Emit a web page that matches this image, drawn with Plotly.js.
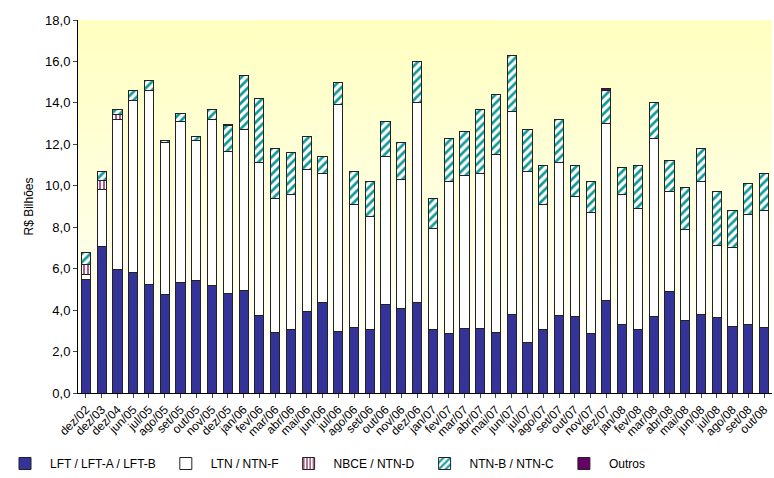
<!DOCTYPE html>
<html><head><meta charset="utf-8">
<script src="https://cdn.plot.ly/plotly-3.0.1.min.js"></script>
<style>body{margin:0}</style>
</head><body><div id="myDiv" style="width:774px;height:478px"></div>
<script>
var months = ["dez/02","dez/03","dez/04","jun/05","jul/05","ago/05","set/05","out/05","nov/05","dez/05",
  "jan/06","fev/06","mar/06","abr/06","mai/06","jun/06","jul/06","ago/06","set/06","out/06","nov/06","dez/06",
  "jan/07","fev/07","mar/07","abr/07","mai/07","jun/07","jul/07","ago/07","set/07","out/07","nov/07","dez/07",
  "jan/08","fev/08","mar/08","abr/08","mai/08","jun/08","jul/08","ago/08","set/08","out/08"];
var lft = [5.5,7.05,5.95,5.8,5.25,4.75,5.35,5.45,5.2,4.8,
  4.95,3.75,2.9,3.05,3.95,4.35,2.95,3.15,3.05,4.25,4.1,4.35,
  3.05,2.85,3.1,3.1,2.9,3.8,2.45,3.05,3.75,3.7,2.85,4.45,
  3.3,3.05,3.7,4.9,3.5,3.8,3.65,3.2,3.3,3.15];
var ltn = [0.2,2.75,7.25,8.3,9.35,7.35,7.75,6.75,8.0,6.85,
  7.75,7.35,6.5,6.55,6.85,6.25,10.95,5.95,5.45,7.15,6.2,9.65,
  4.9,7.35,7.4,7.5,8.6,9.8,8.25,6.05,7.35,5.8,5.85,8.55,
  6.3,5.85,8.6,4.8,4.4,6.4,3.45,3.8,5.3,5.65];
var nbce = [0.5,0.45,0.25,0,0,0,0,0,0,0,
  0,0,0,0,0,0,0,0,0,0,0,0,
  0,0,0,0,0,0,0,0,0,0,0,0,
  0,0,0,0,0,0,0,0,0,0];
var ntnb = [0.6,0.45,0.25,0.5,0.5,0.1,0.4,0.2,0.5,1.25,
  2.6,3.1,2.4,2.0,1.6,0.8,1.1,1.6,1.7,1.7,1.8,2.0,
  1.45,2.1,2.1,3.1,2.9,2.7,2.0,1.9,2.1,1.5,1.5,1.6,
  1.3,2.1,1.7,1.5,2.0,1.6,2.6,1.8,1.5,1.8];
var outros = [0,0,0,0,0,0,0,0,0,0.05,
  0,0,0,0,0,0,0,0,0,0,0,0,
  0,0,0,0,0,0,0,0,0,0,0,0.1,
  0,0,0,0,0,0,0,0,0,0];

var line = {color: "#222", width: 1};
var data = [
  {type: "bar", name: "LFT / LFT-A / LFT-B", x: months, y: lft,
   marker: {color: "#333399", line: line}},
  {type: "bar", name: "LTN / NTN-F", x: months, y: ltn,
   marker: {color: "#ffffff", line: line}},
  {type: "bar", name: "NBCE / NTN-D", x: months, y: nbce,
   marker: {color: "#ffffff", line: line, pattern: {shape: "|", fgcolor: "#993366", bgcolor: "#ffffff", size: 4, solidity: 0.4}}},
  {type: "bar", name: "NTN-B / NTN-C", x: months, y: ntnb,
   marker: {color: "#ffffff", line: line, pattern: {shape: "/", fgcolor: "#119999", bgcolor: "#ffffff", size: 6, solidity: 0.45}}},
  {type: "bar", name: "Outros", x: months, y: outros,
   marker: {color: "#660066", line: line}}
];

var grad = "data:image/svg+xml;utf8," + encodeURIComponent(
  '<svg xmlns="http://www.w3.org/2000/svg" width="10" height="100" preserveAspectRatio="none"><defs><linearGradient id="g" x1="0" y1="0" x2="0" y2="1"><stop offset="0" stop-color="#ffffc0"/><stop offset="1" stop-color="#ffffff"/></linearGradient></defs><rect width="10" height="100" fill="url(#g)"/></svg>');

var layout = {
  width: 774, height: 478,
  margin: {t: 20, r: 2, l: 78, b: 85},
  barmode: "stack", bargap: 0.42,
  separators: ",.",
  font: {family: "Arial, Liberation Sans, sans-serif", size: 12, color: "#000"},
  paper_bgcolor: "#ffffff", plot_bgcolor: "rgba(0,0,0,0)",
  images: [{source: grad, xref: "paper", yref: "paper", x: 0, y: 1, sizex: 1, sizey: 1,
    sizing: "stretch", layer: "below", xanchor: "left", yanchor: "top"}],
  xaxis: {tickangle: -45, showline: true, linecolor: "#000", ticks: "outside", ticklen: 4,
    tickfont: {size: 12}, showgrid: false, automargin: false},
  yaxis: {range: [0, 18], dtick: 2, tickformat: ".1f", showline: true, linecolor: "#000",
    ticks: "outside", ticklen: 4, showgrid: false, zeroline: false, automargin: false,
    tickfont: {size: 13},
    title: {text: "R$ Bilhões", font: {size: 12}, standoff: 8}},
  legend: {orientation: "h", xref: "container", yref: "container", x: 0.0, y: 0.0,
    xanchor: "left", yanchor: "bottom",
    font: {size: 12}, traceorder: "normal", itemwidth: 40},
  showlegend: true
};
Plotly.newPlot("myDiv", data, layout, {displayModeBar: false});
</script>
</body></html>
